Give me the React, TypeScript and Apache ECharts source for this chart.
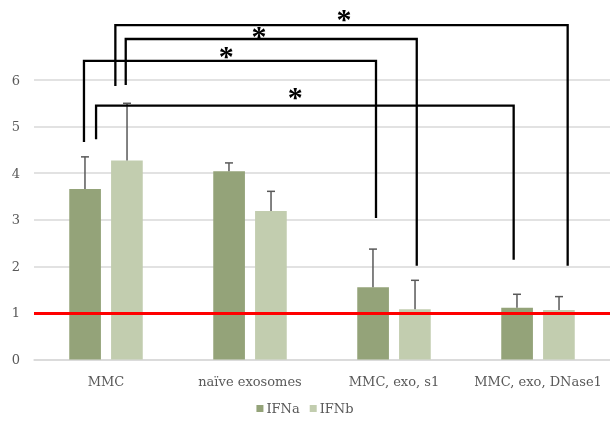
import React, { useEffect, useRef } from "react";
import * as echarts from "echarts";

const categories = ["MMC", "naïve exosomes", "MMC, exo, s1", "MMC, exo, DNase1"];
const ifnaValues = [3.66, 4.04, 1.55, 1.11];
const ifnaErrors = [0.69, 0.18, 0.82, 0.29];
const ifnbValues = [4.27, 3.19, 1.08, 1.06];
const ifnbErrors = [1.23, 0.42, 0.62, 0.29];
const yTicks = [0, 1, 2, 3, 4, 5, 6];
const referenceLine = 1;

// significance brackets: x in category units (0 = first category centre), y in value units
const bracketLeftX = [-0.153, 0.137, 0.065, -0.069];
const bracketRightX = [1.875, 2.158, 3.206, 2.831];
const bracketTop = [6.41, 6.88, 7.18, 5.45];
const bracketLeftBottom = [4.67, 5.89, 5.87, 4.73];
const bracketRightBottom = [3.04, 2.01, 2.01, 2.14];
const starX = [0.835, 1.062, 1.653, 1.315];
const starY = [6.62, 7.05, 7.41, 5.73];
const starLabel = "*";

const FONT = "DejaVu Serif";
const GREY = "#595959";

export default function App() {
  const ref = useRef<HTMLDivElement>(null);
  useEffect(() => {
    if (!ref.current) return;
    const chart = echarts.init(ref.current, null, { renderer: "svg" });
    const barOffset = 0.146;
    const errorRender = (sign: number) => (params: any, api: any) => {
      const band = api.size([1, 0])[0];
      const i = api.value(0);
      const v = api.value(1);
      const e = api.value(2);
      const p0 = api.coord([i, v]);
      const p1 = api.coord([i, v + e]);
      const x = p0[0] + sign * barOffset * band;
      return {
        type: "group",
        children: [
          { type: "line", shape: { x1: x, y1: p0[1], x2: x, y2: p1[1] }, style: { stroke: GREY, lineWidth: 1.5 } },
          { type: "line", shape: { x1: x - 4, y1: p1[1], x2: x + 4, y2: p1[1] }, style: { stroke: GREY, lineWidth: 1.5 } },
        ],
      };
    };
    const bracketRender = (params: any, api: any) => {
      const k = params.dataIndex;
      const band = api.size([1, 0])[0];
      const x0 = api.coord([0, 0])[0];
      const X = (f: number) => x0 + f * band;
      const Y = (v: number) => api.coord([0, v])[1];
      return {
        type: "group",
        children: [
          {
            type: "polyline",
            shape: {
              points: [
                [X(bracketLeftX[k]), Y(bracketLeftBottom[k])],
                [X(bracketLeftX[k]), Y(bracketTop[k])],
                [X(bracketRightX[k]), Y(bracketTop[k])],
                [X(bracketRightX[k]), Y(bracketRightBottom[k])],
              ],
            },
            style: { stroke: "#000", lineWidth: 2.3, fill: null, lineJoin: "miter" },
          },
          {
            type: "text",
            x: X(starX[k]),
            y: Y(starY[k]) + 4,
            style: {
              text: starLabel,
              fill: "#000",
              font: "bold 30px 'Liberation Serif'",
              align: "center",
              verticalAlign: "middle",
            },
          },
        ],
      };
    };
    chart.setOption({
      animation: false,
      grid: { left: 34, right: 0, top: 80, bottom: 63.5, containLabel: false },
      legend: {
        data: ["IFNa", "IFNb"],
        bottom: 3,
        left: "center",
        itemWidth: 7,
        itemHeight: 7,
        itemGap: 10,
        icon: "rect",
        textStyle: { color: GREY, fontFamily: FONT, fontSize: 13, padding: [0, 0, 0, -2] },
      },
      xAxis: {
        type: "category",
        data: categories,
        axisLine: { lineStyle: { color: "#d9d9d9", width: 1.5 } },
        axisTick: { show: false },
        axisLabel: { color: GREY, fontFamily: FONT, fontSize: 13, margin: 15, interval: 0 },
      },
      yAxis: {
        type: "value",
        min: 0,
        max: 6,
        interval: 1,
        axisLine: { show: false },
        axisTick: { show: false },
        splitLine: { lineStyle: { color: "#d9d9d9", width: 1.5 } },
        axisLabel: {
          color: GREY,
          fontFamily: FONT,
          fontSize: 13,
          margin: 14,
          formatter: (v: number) => (yTicks.includes(v) ? String(v) : ""),
        },
      },
      series: [
        {
          name: "IFNa",
          type: "bar",
          data: ifnaValues,
          barWidth: "22%",
          barGap: "32%",
          itemStyle: { color: "#94a379" },
        },
        {
          name: "IFNb",
          type: "bar",
          data: ifnbValues,
          barWidth: "22%",
          barGap: "32%",
          itemStyle: { color: "#c2cdaf" },
        },
        {
          type: "custom",
          renderItem: errorRender(-1),
          data: ifnaValues.map((v, i) => [i, v, ifnaErrors[i]]),
          z: 5,
          silent: true,
        },
        {
          type: "custom",
          renderItem: errorRender(1),
          data: ifnbValues.map((v, i) => [i, v, ifnbErrors[i]]),
          z: 5,
          silent: true,
        },
        {
          type: "custom",
          renderItem: bracketRender,
          data: bracketTop.map((t, i) => [i, 0]),
          clip: false,
          z: 10,
          silent: true,
          markLine: {
            silent: true,
            symbol: "none",
            label: { show: false },
            lineStyle: { color: "#ff0000", width: 3, type: "solid" },
            data: [{ yAxis: referenceLine }],
          },
        },
      ],
    });
    return () => chart.dispose();
  }, []);
  return (
    <div
      ref={ref}
      style={{ position: "fixed", left: 0, top: 0, width: 610, height: 423 }}
    />
  );
}
